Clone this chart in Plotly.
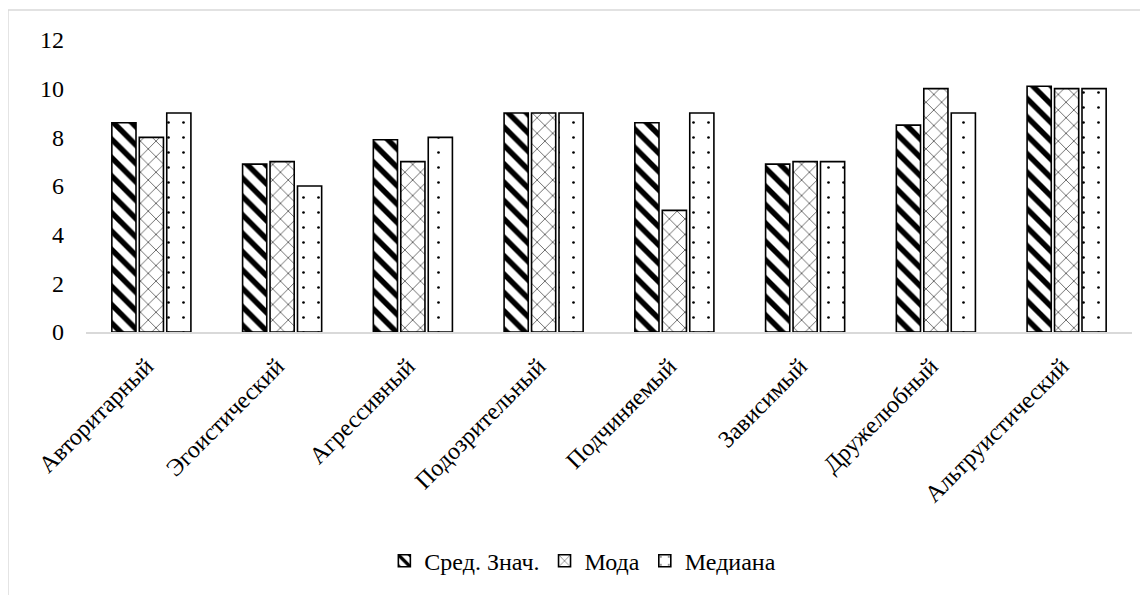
import plotly.graph_objects as go

categories = ["Авторитарный", "Эгоистический", "Агрессивный", "Подозрительный",
              "Подчиняемый", "Зависимый", "Дружелюбный", "Альтруистический"]
mean_vals = [8.6, 6.9, 7.9, 9.0, 8.6, 6.9, 8.5, 10.1]
mode_vals = [8, 7, 7, 9, 5, 7, 10, 10]
median_vals = [9, 6, 8, 9, 9, 7, 9, 10]
series_names = ["Сред. Знач.", "Мода", "Медиана"]
y_ticks = [0, 2, 4, 6, 8, 10, 12]

FONT = "'Liberation Serif', 'Times New Roman', serif"
FS = 24

patterns = [
    dict(shape="\\", size=13, solidity=0.42, fgcolor="black", bgcolor="white", fillmode="replace"),
    dict(shape="x", size=11, solidity=0.1, fgcolor="black", bgcolor="white", fillmode="replace"),
    dict(shape=".", size=15, solidity=0.025, fgcolor="black", bgcolor="white", fillmode="replace"),
]

fig = go.Figure()
for name, vals, pat in zip(series_names, [mean_vals, mode_vals, median_vals], patterns):
    fig.add_trace(go.Bar(
        x=categories, y=vals, name=name,
        marker=dict(color="white", pattern=pat, line=dict(color="black", width=1.6)),
    ))

fig.update_layout(
    width=1148, height=595,
    margin=dict(l=78, r=24, t=32, b=271),
    paper_bgcolor="white", plot_bgcolor="white",
    font=dict(family=FONT, size=FS, color="black"),
    barmode="group", bargap=0.37, bargroupgap=0.12,
    showlegend=True,
    legend=dict(orientation="h", x=0.475, xanchor="center", y=-0.785, yanchor="middle",
                font=dict(family=FONT, size=FS, color="black"), itemwidth=30,
                traceorder="normal"),
    xaxis=dict(showline=True, linecolor="#d9d9d9", linewidth=1.5, tickangle=-45,
               ticks="", showgrid=False, ticklabelstandoff=9, ticklabelshift=-5,
               automargin=False,
               tickfont=dict(family=FONT, size=FS, color="black")),
    yaxis=dict(range=[0, 12], tickvals=y_ticks, showgrid=False, zeroline=False,
               showline=False, ticks="", ticklabelstandoff=21, automargin=False,
               tickfont=dict(family=FONT, size=FS, color="black")),
    shapes=[
        dict(type="line", xref="paper", yref="paper", x0=-0.0746, x1=-0.0746, y0=1.1027, y1=-1.0,
             line=dict(color="#d9d9d9", width=1.5)),
        dict(type="line", xref="paper", yref="paper", x0=-0.0746, x1=1.1, y0=1.1027, y1=1.1027,
             line=dict(color="#d9d9d9", width=1.5)),
    ],
)

fig.write_html("out.html")
